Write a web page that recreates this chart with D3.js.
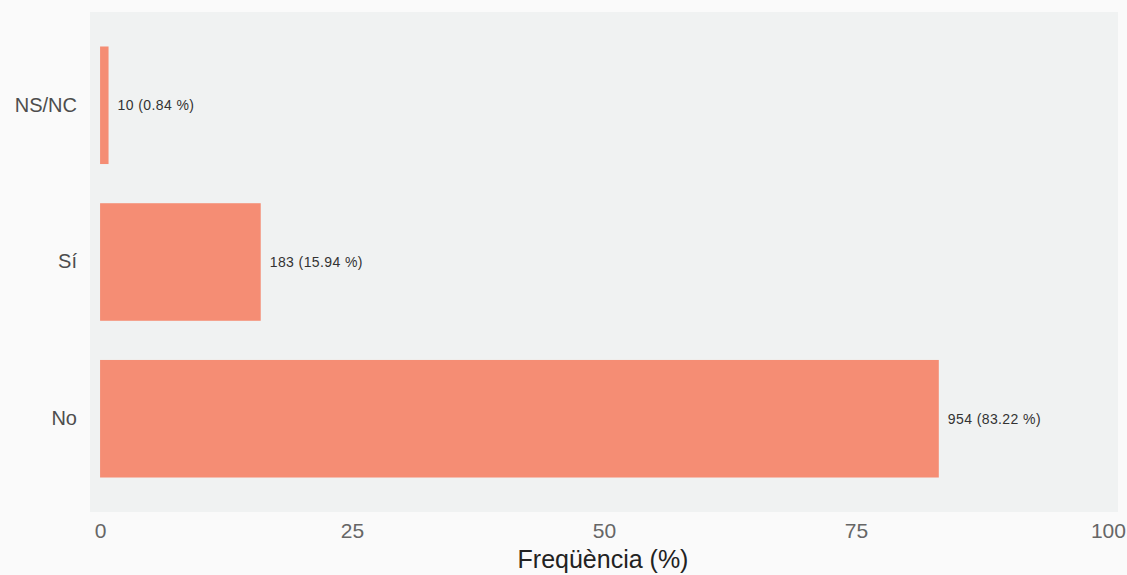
<!DOCTYPE html>
<html>
<head>
<meta charset="utf-8">
<script src="https://cdn.jsdelivr.net/npm/d3@7"></script>
<style>
  body { margin: 0; background: #fafafa; }
  svg { display: block; font-family: "Liberation Sans", Arial, sans-serif; }
</style>
</head>
<body>
<div id="chart"></div>
<script>
// data
var categories = ["NS/NC", "Sí", "No"]
var counts = [10, 183, 954]
var percents = [0.84, 15.94, 83.22]
var xTicks = [0, 25, 50, 75, 100]

var width = 1127
var height = 575
var panel = {left: 90, right: 1118, top: 12, bottom: 512}

var svg = d3.select("#chart")
  .append("svg")
    .attr("width", width)
    .attr("height", height)

svg.append("rect")
    .attr("width", width)
    .attr("height", height)
    .attr("fill", "#fafafa")

// grey panel
svg.append("rect")
    .attr("x", panel.left)
    .attr("y", panel.top)
    .attr("width", panel.right - panel.left)
    .attr("height", panel.bottom - panel.top)
    .attr("fill", "#f0f2f2")

var x = d3.scaleLinear()
    .domain([-1, 101])
    .range([panel.left, panel.right])

var y = d3.scaleBand()
    .domain(categories)
    .range([panel.top, panel.bottom])
    .paddingInner(0.25)
    .paddingOuter(0.22)

var data = categories.map((c, i) => ({cat: c, n: counts[i], pct: percents[i]}))

svg.append("g")
  .selectAll("rect")
  .data(data)
  .join("rect")
    .attr("x", x(0))
    .attr("y", d => y(d.cat))
    .attr("width", d => x(d.pct) - x(0))
    .attr("height", y.bandwidth())
    .attr("fill", "#f58d74")

svg.append("g")
    .attr("font-size", 14)
    .attr("letter-spacing", 0.4)
    .attr("fill", "#333")
  .selectAll("text")
  .data(data)
  .join("text")
    .attr("x", d => x(d.pct) + 9)
    .attr("y", d => y(d.cat) + y.bandwidth() / 2)
    .attr("dy", "0.35em")
    .text(d => d.n + " (" + d.pct.toFixed(2) + " %)")

// y axis labels
var yAxis = svg.append("g")
    .attr("transform", "translate(" + panel.left + ",0)")
    .call(d3.axisLeft(y).tickSize(0).tickPadding(13))
yAxis.select(".domain").remove()
yAxis.selectAll("text")
    .attr("font-size", 20)
    .attr("fill", "#4d4d4d")
    .attr("font-family", "Liberation Sans, Arial, sans-serif")

// x axis
var xAxis = svg.append("g")
    .attr("transform", "translate(0," + panel.bottom + ")")
    .call(d3.axisBottom(x).tickValues(xTicks).tickSize(0).tickPadding(11))
xAxis.select(".domain").remove()
xAxis.selectAll("text")
    .attr("font-size", 21)
    .attr("fill", "#666")
    .attr("font-family", "Liberation Sans, Arial, sans-serif")

svg.append("text")
    .attr("x", x(50) - 1)
    .attr("y", 568)
    .attr("text-anchor", "middle")
    .attr("font-size", 25)
    .attr("fill", "#222")
    .text("Freqüència (%)")
</script>
</body>
</html>
